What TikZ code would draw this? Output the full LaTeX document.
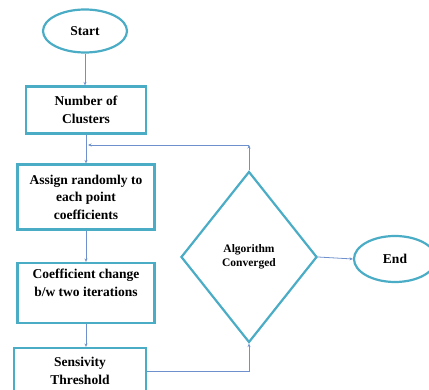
\documentclass[tikz,border=0pt]{standalone}
\usepackage{fontspec}
\setmainfont{Liberation Serif}
\usepackage{tikz}
\usetikzlibrary{shapes.geometric}
\usetikzlibrary{arrows.meta}
\definecolor{boxteal}{RGB}{75,172,198}
\definecolor{linkblue}{RGB}{110,145,205}

\begin{document}
\begin{tikzpicture}[x=1pt,y=-1pt]
\tikzset{procbox/.style={draw=boxteal,line width=2.2pt,rectangle,align=center,inner sep=0pt,font=\fontsize{13.5}{17.5}\selectfont\bfseries}}
\tikzset{termnode/.style={draw=boxteal,line width=2.2pt,ellipse,inner sep=0pt,font=\fontsize{13.5}{17}\selectfont\bfseries}}
\tikzset{link/.style={draw=linkblue,line width=0.8pt,-{Stealth[length=3.5pt,width=3pt]}}}
\useasboundingbox (0,0) rectangle (429,390);
\node (start) at (85,31) [termnode,minimum width=84pt,minimum height=43pt] {Start};
\node (num) at (86,110) [procbox,minimum width=120pt,minimum height=47pt] {Number of\\Clusters};
\node (assign) at (86,197) [procbox,minimum width=137pt,minimum height=65pt] {Assign randomly to\\each point\\coefficients};
\node (coef) at (86,293) [procbox,minimum width=137pt,minimum height=60pt] {Coefficient change\\b/w two iterations\\[3pt]};
\node (sens) at (80,371) [procbox,minimum width=132pt,minimum height=46pt] {Sensivity\\Threshold};
\node (dia) at (249,257) [draw=boxteal,line width=2.2pt,diamond,aspect=0.8,inner sep=0pt,minimum width=136pt,minimum height=171pt,align=center,font=\fontsize{11.5}{14}\selectfont\bfseries] {Algorithm\\Converged};
\node (end) at (395,259) [termnode,minimum width=82pt,minimum height=46pt] {End};
\coordinate (loop) at (249,145);
\coordinate (join) at (88,145);

\path
(start.south) edge [link] (start.south |- num.north)
(num.south) edge [link] (num.south |- assign.north)
(assign.south) edge [link] (assign.south |- coef.north)
(coef.south) edge [link] (coef.south |- sens.north)
(dia.east) edge [link] (end.west);
\draw [link] (sens.east) -| (dia.south);
\draw [link] (dia.north) -- (loop);
\draw [link] (loop) -- (join);
\end{tikzpicture}
\end{document}
